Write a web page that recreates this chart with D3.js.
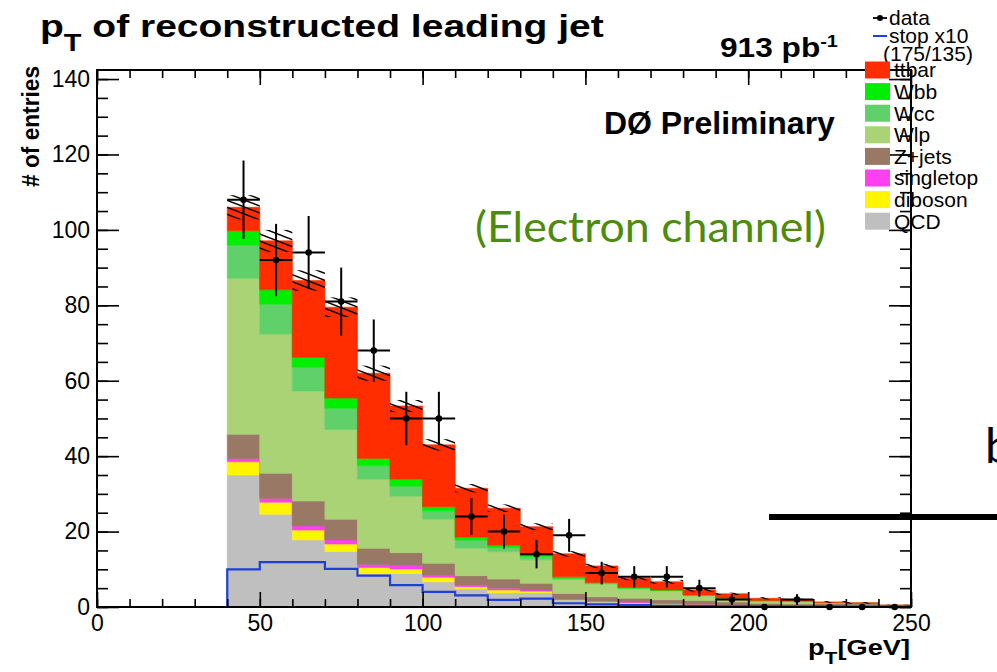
<!DOCTYPE html>
<html>
<head>
<meta charset="utf-8">
<script src="https://cdn.jsdelivr.net/npm/d3@7"></script>
<style>
  html, body { margin: 0; padding: 0; background: #fff; }
  svg { display: block; }
</style>
</head>
<body>
<svg id="chart" width="997" height="672"></svg>
<script>
// ---- data: leading-jet pT, 10 GeV bins ----
const binLow = [40, 50, 60, 70, 80, 90, 100, 110, 120, 130, 140, 150, 160, 170, 180, 190, 200, 210, 220, 230, 240];
const binWidth = 10;

// stacked backgrounds, bottom to top
const qcd       = [35.0, 24.6, 17.8, 14.7, 8.8, 8.9, 6.7, 4.8, 3.8, 3.8, 1.9, 1.4, 1.1, 0.8, 0.6, 0.4, 0.3, 0.2, 0.1, 0.1, 0.05];
const diboson   = [3.5, 3.2, 2.6, 2.0, 1.7, 1.2, 1.2, 0.6, 0.7, 0.4, 0.1, 0.1, 0.1, 0.1, 0.1, 0.05, 0.05, 0.05, 0.02, 0.02, 0.01];
const singletop = [0.9, 1.0, 1.1, 1.1, 0.8, 0.9, 0.6, 0.4, 0.5, 0.3, 0.1, 0.1, 0.1, 0.1, 0.05, 0.05, 0.05, 0.05, 0.02, 0.02, 0.01];
const zjets     = [6.4, 6.7, 6.6, 5.5, 4.3, 3.4, 3.1, 2.5, 2.4, 1.8, 1.5, 1.1, 1.0, 0.9, 0.95, 0.8, 0.6, 0.5, 0.86, 0.71, 0.23];
const wlp       = [41.4, 36.9, 29.2, 23.8, 18.3, 15.0, 11.7, 7.3, 7.3, 6.2, 3.7, 3.4, 2.5, 2.4, 1.3, 0.8, 0.6, 0.7, 0.15, 0.1, 0.1];
const wcc       = [8.8, 7.9, 6.3, 5.6, 3.6, 2.7, 2.2, 2.2, 1.1, 0.8, 0.3, 0.2, 0.2, 0.1, 0.1, 0.1, 0.05, 0.05, 0.03, 0.03, 0.02];
const wbb       = [3.8, 3.8, 2.6, 2.7, 1.9, 1.8, 1.1, 0.7, 0.6, 0.5, 0.4, 0.2, 0.2, 0.1, 0.1, 0.1, 0.05, 0.05, 0.02, 0.02, 0.02];
const ttbar     = [6.2, 13.0, 20.4, 24.1, 22.6, 19.4, 16.4, 13.0, 9.8, 7.5, 6.1, 4.4, 2.4, 2.2, 1.3, 1.2, 0.6, 0.4, 0.15, 0.1, 0.06];

// MC uncertainty (half-height of the hatched band)
const mcErr = [3.2, 2.9, 2.7, 2.6, 2.0, 1.6, 1.5, 1.1, 1.0, 0.9, 0.7, 0.6, 0.5, 0.5, 0.4, 0.3, 0.3, 0.2, 0.2, 0.2, 0.1];

// observed events
const dataCounts = [108, 92, 94, 81, 68, 50, 50, 24, 20, 14, 19, 9, 8, 8, 5, 2, 0, 2, 0, 0, 0];

// stop signal (x10), full range from 0 GeV
const stopLow = [0, 10, 20, 30, 40, 50, 60, 70, 80, 90, 100, 110, 120, 130, 140, 150, 160, 170, 180, 190, 200, 210, 220, 230, 240];
const stopX10 = [0, 0, 0, 0, 10.0, 11.9, 11.9, 10.1, 8.3, 5.8, 4.0, 3.1, 1.9, 2.2, 1.0, 0.7, 0.5, 0.3, 0.25, 0.2, 0.15, 0.1, 0.1, 0.05, 0.05];

const xTicks = [0, 50, 100, 150, 200, 250];
const yTicks = [0, 20, 40, 60, 80, 100, 120, 140];

const seriesKeys   = ["QCD", "diboson", "singletop", "Z+jets", "Wlp", "Wcc", "Wbb", "ttbar"];
const seriesValues = [qcd, diboson, singletop, zjets, wlp, wcc, wbb, ttbar];
const legendOrder  = ["ttbar", "Wbb", "Wcc", "Wlp", "Z+jets", "singletop", "diboson", "QCD"];

// ---- styling ----
const colors = {
  "ttbar": "#ff2d00",
  "Wbb": "#00ee00",
  "Wcc": "#60d06a",
  "Wlp": "#a9d375",
  "Z+jets": "#9a7866",
  "singletop": "#ff40f0",
  "diboson": "#fff500",
  "QCD": "#bfbfbf"
};
const stopColor = "#1f3fd8";
const SANS = "'Liberation Sans', Arial, Helvetica, sans-serif";

const svg = d3.select("#chart");
const frame = { left: 97, right: 911, top: 70, bottom: 607 };

const x = d3.scaleLinear().domain([0, 250]).range([frame.left, frame.right]);
const y = d3.scaleLinear().domain([0, 142.4]).range([frame.bottom, frame.top]);

// hatch pattern for the MC uncertainty band
const defs = svg.append("defs");
const pat = defs.append("pattern")
  .attr("id", "hatch")
  .attr("patternUnits", "userSpaceOnUse")
  .attr("width", 18).attr("height", 7);
pat.append("path")
  .attr("d", "M-2,-0.78 L20,7.78 M-2,6.22 L2,7.78 M16,-0.78 L20,0.78")
  .attr("stroke", "#000").attr("stroke-width", 1.5).attr("fill", "none");

// ---- stacked histogram ----
const table = binLow.map((lo, i) => {
  const row = { lo };
  seriesKeys.forEach((k, j) => { row[k] = seriesValues[j][i]; });
  return row;
});
const stacked = d3.stack().keys(seriesKeys)(table);

const stepArea = d3.area()
  .x(d => x(d.x)).y0(d => y(d.y0)).y1(d => y(d.y1))
  .curve(d3.curveStepAfter);

const gStack = svg.append("g");
stacked.forEach(layer => {
  const pts = layer.map((d, i) => ({ x: binLow[i], y0: d[0], y1: d[1] }));
  const last = pts[pts.length - 1];
  pts.push({ x: last.x + binWidth, y0: last.y0, y1: last.y1 });
  gStack.append("path")
    .attr("d", stepArea(pts))
    .attr("fill", colors[layer.key])
    .attr("stroke", colors[layer.key])
    .attr("stroke-width", 0.6);
});

// total MC and its hatched uncertainty band
const total = stacked[stacked.length - 1].map(d => d[1]);
svg.append("g").selectAll("rect")
  .data(binLow)
  .join("rect")
  .attr("x", (d) => x(d))
  .attr("width", d => x(d + binWidth) - x(d))
  .attr("y", (d, i) => y(total[i] + mcErr[i]))
  .attr("height", (d, i) => y(total[i] - mcErr[i]) - y(total[i] + mcErr[i]))
  .attr("fill", "url(#hatch)");

// stop x10 overlay
const stopPts = stopLow.map((lo, i) => ({ x: lo, v: stopX10[i] }));
stopPts.push({ x: stopLow[stopLow.length - 1] + binWidth, v: stopX10[stopX10.length - 1] });
svg.append("path")
  .attr("d", d3.line().x(d => x(d.x)).y(d => y(d.v)).curve(d3.curveStepAfter)(stopPts))
  .attr("fill", "none")
  .attr("stroke", stopColor)
  .attr("stroke-width", 2.2);

// ---- axes (ticks inside the frame on all four sides) ----
function styleAxis(g) {
  g.select(".domain").remove();
  g.selectAll(".tick line").attr("stroke", "#000").attr("stroke-width", 1.6);
  g.selectAll(".tick text").attr("fill", "#000").attr("font-family", SANS).attr("font-size", 23);
}
const yMinor = y.ticks(28);
const xMinor = x.ticks(25);

svg.append("g").attr("transform", `translate(0,${frame.bottom})`)
  .call(d3.axisBottom(x).tickValues(xMinor).tickSize(-8).tickFormat(""))
  .call(styleAxis);
svg.append("g").attr("transform", `translate(0,${frame.bottom})`)
  .call(d3.axisBottom(x).tickValues(xTicks).tickSize(-15).tickPadding(8).tickFormat(d3.format("d")))
  .call(styleAxis);
svg.append("g").attr("transform", `translate(0,${frame.top})`)
  .call(d3.axisTop(x).tickValues(xMinor).tickSize(-8).tickFormat(""))
  .call(styleAxis);
svg.append("g").attr("transform", `translate(0,${frame.top})`)
  .call(d3.axisTop(x).tickValues(xTicks).tickSize(-15).tickFormat(""))
  .call(styleAxis);

svg.append("g").attr("transform", `translate(${frame.left},0)`)
  .call(d3.axisLeft(y).tickValues(yMinor).tickSize(-11).tickFormat(""))
  .call(styleAxis);
svg.append("g").attr("transform", `translate(${frame.left},0)`)
  .call(d3.axisLeft(y).tickValues(yTicks).tickSize(-22).tickPadding(7).tickFormat(d3.format("d")))
  .call(styleAxis);
svg.append("g").attr("transform", `translate(${frame.right},0)`)
  .call(d3.axisRight(y).tickValues(yMinor).tickSize(-11).tickFormat(""))
  .call(styleAxis);
svg.append("g").attr("transform", `translate(${frame.right},0)`)
  .call(d3.axisRight(y).tickValues(yTicks).tickSize(-22).tickFormat(""))
  .call(styleAxis);

svg.append("rect")
  .attr("x", frame.left).attr("y", frame.top)
  .attr("width", frame.right - frame.left).attr("height", frame.bottom - frame.top)
  .attr("fill", "none").attr("stroke", "#000").attr("stroke-width", 2);

// ---- data points with Poisson errors ----
const gData = svg.append("g");
binLow.forEach((lo, i) => {
  const n = dataCounts[i];
  const cx = x(lo + binWidth / 2);
  const cy = y(n);
  if (n > 0) {
    const e = Math.sqrt(n);
    gData.append("line").attr("x1", x(lo)).attr("x2", x(lo + binWidth)).attr("y1", cy).attr("y2", cy)
      .attr("stroke", "#000").attr("stroke-width", 2);
    gData.append("line").attr("x1", cx).attr("x2", cx).attr("y1", y(n + e)).attr("y2", y(n - e))
      .attr("stroke", "#000").attr("stroke-width", 2);
  }
  gData.append("circle").attr("cx", cx).attr("cy", cy).attr("r", 3.3).attr("fill", "#000");
});

// ---- text helpers: set size by glyph height, stretch to the measured span ----
function fitText(sel, width) {
  const w = sel.node().getComputedTextLength();
  const sx = width / w;
  const t = sel.attr("data-t");
  sel.attr("transform", `${t} scale(${sx},1)`);
}
function placeText(parts, x0, base, width, opts = {}) {
  const t = svg.append("text")
    .attr("font-family", opts.family || SANS)
    .attr("font-weight", opts.weight || "bold")
    .attr("fill", opts.fill || "#000")
    .attr("x", 0).attr("y", 0)
    .attr("data-t", `translate(${x0},${base})`);
  parts.forEach(p => {
    t.append("tspan").attr("font-size", p.size).attr("dy", p.dy || 0).text(p.text);
  });
  fitText(t, width);
  return t;
}

// title
placeText([
  { text: "p", size: 31 },
  { text: "T", size: 23, dy: 14 },
  { text: " of reconstructed leading jet", size: 31, dy: -14 }
], 40, 37, 564);

// luminosity
placeText([
  { text: "913 pb", size: 27 },
  { text: "-1", size: 17, dy: -10 }
], 720, 57, 118);

// experiment label
placeText([{ text: "DØ Preliminary", size: 31 }], 604, 134, 231);

// axis titles
placeText([
  { text: "p", size: 22 },
  { text: "T", size: 17, dy: 9 },
  { text: "[GeV]", size: 22, dy: -9 }
], 808, 655, 102);

const yt = svg.append("text")
  .attr("font-family", SANS).attr("font-weight", "bold").attr("font-size", 23)
  .attr("text-anchor", "end")
  .text("# of entries");
(function () {
  const w = yt.node().getComputedTextLength();
  yt.attr("transform", `translate(39,66) rotate(-90) scale(${121 / w},1)`);
})();

// channel label
placeText([{ text: "(Electron channel)", size: 42 }], 475, 242, 351,
  { family: "Lato, 'Open Sans', sans-serif", weight: "normal", fill: "#4d8c0a" });

// ---- legend ----
const lg = svg.append("g").attr("font-family", SANS).attr("font-size", 21).attr("fill", "#000");
lg.append("line").attr("x1", 873).attr("x2", 887).attr("y1", 18).attr("y2", 18)
  .attr("stroke", "#000").attr("stroke-width", 1.8);
lg.append("circle").attr("cx", 880).attr("cy", 18).attr("r", 3).attr("fill", "#000");
lg.append("text").attr("x", 889).attr("y", 18).attr("dy", "0.35em").text("data");
lg.append("line").attr("x1", 873).attr("x2", 887).attr("y1", 36).attr("y2", 36)
  .attr("stroke", stopColor).attr("stroke-width", 2);
lg.append("text").attr("x", 889).attr("y", 36).attr("dy", "0.35em").text("stop x10");
lg.append("text").attr("x", 883).attr("y", 54).attr("dy", "0.35em").text("(175/135)");

const legendY = d3.scalePoint().domain(legendOrder).range([70, 221.2]);
legendOrder.forEach(k => {
  lg.append("rect").attr("x", 865).attr("y", legendY(k) - 8.5).attr("width", 25).attr("height", 17)
    .attr("fill", colors[k]);
  lg.append("text").attr("x", 894).attr("y", legendY(k)).attr("dy", "0.35em").text(k);
});

// ---- neighbouring slide content at the right edge ----
svg.append("line").attr("x1", 769).attr("x2", 997).attr("y1", 517).attr("y2", 517)
  .attr("stroke", "#000").attr("stroke-width", 6);
svg.append("text").attr("x", 985).attr("y", 463)
  .attr("font-family", "Lato, 'Open Sans', sans-serif").attr("font-size", 48).attr("fill", "#000")
  .text("b");
</script>
</body>
</html>
